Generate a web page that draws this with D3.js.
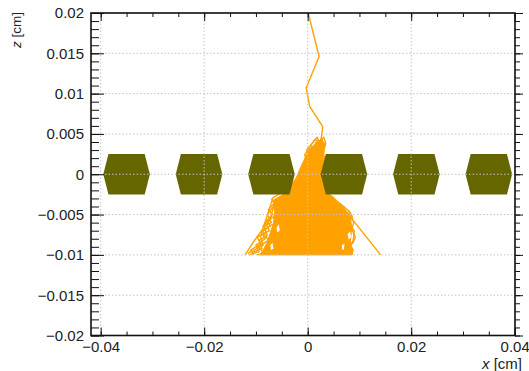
<!DOCTYPE html>
<html>
<head>
<meta charset="utf-8">
<script src="https://cdn.jsdelivr.net/npm/d3@7"></script>
<style>
  body { margin: 0; background: #fff; }
  text { font-family: "Liberation Sans", Arial, sans-serif; }
</style>
</head>
<body>
<svg id="chart" width="529" height="371"></svg>
<script>
// ---- axis ticks (cm) ----
const xMajorTicks = [-0.04, -0.02, 0, 0.02, 0.04];
const xTickLabels = ["\u22120.04", "\u22120.02", "0", "0.02", "0.04"];
const yMajorTicks = [-0.02, -0.015, -0.01, -0.005, 0, 0.005, 0.01, 0.015, 0.02];
const yTickLabels = ["\u22120.02", "\u22120.015", "\u22120.01", "\u22120.005", "0", "0.005", "0.01", "0.015", "0.02"];

// ---- detector cells: centres along x (cm) and the cell outline relative to a centre ----
const cellCentersX = [-0.035, -0.021, -0.007, 0.007, 0.021, 0.035];
const cellOutline = [[-0.0045, 0], [-0.0035, 0.0025], [0.0035, 0.0025], [0.0045, 0], [0.0035, -0.0025], [-0.0035, -0.0025]];

// ---- dense core of the shower, where the tracks overlap completely (x, z in cm) ----
const showerCore = [
  [0.0016, 0.0038], [0.0004, 0.0032], [-0.0004, 0.0022], [-0.0014, 0.0008], [-0.0022, -0.0004],
  [-0.0034, -0.0016], [-0.0050, -0.0026], [-0.0066, -0.0032], [-0.0064, -0.0046], [-0.0066, -0.0060],
  [-0.0072, -0.0072], [-0.0078, -0.0084], [-0.0086, -0.0094], [-0.0092, -0.0100],
  [0.0086, -0.0100], [0.0088, -0.0094], [0.0082, -0.0086], [0.0084, -0.0074], [0.0085, -0.0065],
  [0.0082, -0.0053], [0.0068, -0.0040], [0.0049, -0.0028], [0.0034, -0.0022], [0.0030, 0.0000],
  [0.0030, 0.0022], [0.0034, 0.0036], [0.0027, 0.0044]
];
// small gaps inside the core
const coreGaps = [
  [[0.0077, -0.0074], [0.0082, -0.0071], [0.0084, -0.0078], [0.0079, -0.0081]],
  [[0.0066, -0.0088], [0.0071, -0.0086], [0.0072, -0.0093], [0.0067, -0.0094]],
  [[-0.0060, -0.0066], [-0.0056, -0.0062], [-0.0054, -0.0070], [-0.0059, -0.0072]],
  [[-0.0072, -0.0088], [-0.0068, -0.0085], [-0.0066, -0.0092], [-0.0071, -0.0094]]
];

// ---- individual tracks (x, z in cm) ----
const trackPrimary = [[0.0001, 0.0200], [0.0022, 0.0146], [-0.0003, 0.0107], [0.0004, 0.0084], [0.0029, 0.0059], [0.0027, 0.0048], [0.0024, 0.0040], [0.0018, 0.0030]];
const trackTopLoopA = [[0.0010, 0.0026], [0.0006, 0.0036], [0.0014, 0.0043], [0.0024, 0.0040], [0.0031, 0.0046], [0.0035, 0.0038], [0.0028, 0.0030], [0.0033, 0.0020], [0.0026, 0.0012]];
const trackTopLoopB = [[0.0000, 0.0016], [-0.0006, 0.0024], [0.0002, 0.0032], [0.0010, 0.0030], [0.0016, 0.0040], [0.0022, 0.0034], [0.0020, 0.0022]];
const trackTopLoopC = [[0.0004, 0.0020], [-0.0002, 0.0030], [0.0008, 0.0038], [0.0018, 0.0046], [0.0026, 0.0036]];
const trackLeftEdge = [[-0.0040, -0.0019], [-0.0067, -0.0029], [-0.0079, -0.0053], [-0.0088, -0.0069], [-0.0106, -0.0085], [-0.0121, -0.0100]];
const trackLeftA = [[-0.0062, -0.0034], [-0.0076, -0.0044], [-0.0068, -0.0050], [-0.0080, -0.0058], [-0.0072, -0.0064], [-0.0090, -0.0072], [-0.0082, -0.0080], [-0.0100, -0.0088], [-0.0094, -0.0096], [-0.0114, -0.0100]];
const trackLeftB = [[-0.0066, -0.0040], [-0.0072, -0.0056], [-0.0084, -0.0066], [-0.0078, -0.0076], [-0.0094, -0.0082], [-0.0088, -0.0092], [-0.0106, -0.0097]];
const trackLeftC = [[-0.0070, -0.0030], [-0.0064, -0.0038], [-0.0078, -0.0050], [-0.0070, -0.0060], [-0.0086, -0.0064], [-0.0080, -0.0072], [-0.0098, -0.0078], [-0.0090, -0.0086], [-0.0110, -0.0094], [-0.0104, -0.0100]];
const trackLeftD = [[-0.0068, -0.0062], [-0.0088, -0.0070], [-0.0076, -0.0082], [-0.0096, -0.0090], [-0.0084, -0.0098], [-0.0098, -0.0100]];
const trackLeftE = [[-0.0060, -0.0050], [-0.0082, -0.0060], [-0.0074, -0.0070], [-0.0092, -0.0076], [-0.0086, -0.0088], [-0.0116, -0.0098]];
const trackRightA = [[0.0040, -0.0028], [0.0062, -0.0036], [0.0082, -0.0047], [0.0089, -0.0060], [0.0085, -0.0068], [0.0092, -0.0078], [0.0087, -0.0086], [0.0079, -0.0084], [0.0076, -0.0092], [0.0085, -0.0100]];
const trackRightB = [[0.0070, -0.0044], [0.0086, -0.0052], [0.0080, -0.0062], [0.0090, -0.0070], [0.0088, -0.0082], [0.0082, -0.0090], [0.0073, -0.0087], [0.0070, -0.0096]];
const trackRightLong = [[0.0055, -0.0036], [0.0075, -0.0047], [0.0141, -0.0100]];

const tracks = [trackPrimary, trackTopLoopA, trackTopLoopB, trackTopLoopC, trackLeftEdge, trackLeftA,
                trackLeftB, trackLeftC, trackLeftD, trackLeftE, trackRightA, trackRightB, trackRightLong];

// ---- layout ----
const frame = { left: 91, right: 515, top: 13, bottom: 335.5 };
const x = d3.scaleLinear().domain([-0.04, 0.04]).range([100.7, 514.7]);
const y = d3.scaleLinear().domain([-0.02, 0.02]).range([frame.bottom, frame.top]);

const trackColor = "#ffa200";
const cellColor = "#666600";

const svg = d3.select("#chart");
svg.append("defs").append("clipPath").attr("id", "plotClip")
  .append("rect")
  .attr("x", frame.left).attr("y", frame.top)
  .attr("width", frame.right - frame.left).attr("height", frame.bottom - frame.top);

const plot = svg.append("g").attr("clip-path", "url(#plotClip)");
const openLine = d3.line().x(d => x(d[0])).y(d => y(d[1]));
const closedLine = d3.line().x(d => x(d[0])).y(d => y(d[1])).curve(d3.curveLinearClosed);

// shower core
plot.append("path")
  .attr("d", closedLine(showerCore))
  .attr("fill", trackColor)
  .attr("stroke", trackColor).attr("stroke-width", 1);
plot.selectAll("path.gap").data(coreGaps).join("path")
  .attr("class", "gap")
  .attr("d", d => closedLine(d))
  .attr("fill", "#fff");

// tracks
plot.selectAll("path.track").data(tracks).join("path")
  .attr("class", "track")
  .attr("d", d => openLine(d))
  .attr("fill", "none")
  .attr("stroke", trackColor)
  .attr("stroke-width", 1.4)
  .attr("stroke-linejoin", "round");

// detector cells
plot.selectAll("path.cell").data(cellCentersX).join("path")
  .attr("class", "cell")
  .attr("d", cx => closedLine(cellOutline.map(p => [cx + p[0], p[1]])))
  .attr("fill", cellColor);

// dotted grid drawn over the marks
const grid = svg.append("g").attr("stroke", "#c4c4c4").attr("stroke-width", 1).attr("stroke-dasharray", "1.5,2");
grid.selectAll("line.gx").data(xMajorTicks).join("line")
  .attr("x1", d => x(d)).attr("x2", d => x(d))
  .attr("y1", frame.top).attr("y2", frame.bottom);
grid.selectAll("line.gy").data(yMajorTicks).join("line")
  .attr("x1", frame.left).attr("x2", frame.right)
  .attr("y1", d => y(d)).attr("y2", d => y(d));

// axes
const xMinor = d3.ticks(-0.04, 0.04, 16);
const yMinor = d3.ticks(-0.02, 0.02, 40);
const fontSize = 15;

function styleAxis(g) {
  g.attr("font-family", null).attr("font-size", null);
  g.selectAll("line").attr("stroke", "#111");
  g.selectAll(".domain").remove();
  g.selectAll("text").attr("fill", "#222").attr("font-size", fontSize);
}

// bottom
svg.append("g").attr("transform", `translate(0,${frame.bottom})`)
  .call(d3.axisBottom(x).tickValues(xMinor).tickSize(-4).tickFormat(""))
  .call(styleAxis);
svg.append("g").attr("transform", `translate(0,${frame.bottom})`)
  .call(d3.axisBottom(x).tickValues(xMajorTicks).tickSize(-8).tickPadding(6)
    .tickFormat((d, i) => xTickLabels[i]))
  .call(styleAxis);
// top
svg.append("g").attr("transform", `translate(0,${frame.top})`)
  .call(d3.axisTop(x).tickValues(xMinor).tickSize(-4).tickFormat(""))
  .call(styleAxis);
svg.append("g").attr("transform", `translate(0,${frame.top})`)
  .call(d3.axisTop(x).tickValues(xMajorTicks).tickSize(-8).tickFormat(""))
  .call(styleAxis);
// left
svg.append("g").attr("transform", `translate(${frame.left},0)`)
  .call(d3.axisLeft(y).tickValues(yMinor).tickSize(-8).tickFormat(""))
  .call(styleAxis);
svg.append("g").attr("transform", `translate(${frame.left},0)`)
  .call(d3.axisLeft(y).tickValues(yMajorTicks).tickSize(-13).tickPadding(7)
    .tickFormat((d, i) => yTickLabels[i]))
  .call(styleAxis);
// right
svg.append("g").attr("transform", `translate(${frame.right},0)`)
  .call(d3.axisRight(y).tickValues(yMinor).tickSize(5).tickFormat(""))
  .call(styleAxis);
svg.append("g").attr("transform", `translate(${frame.right},0)`)
  .call(d3.axisRight(y).tickValues(yMajorTicks).tickSize(8).tickFormat(""))
  .call(styleAxis);

// frame
svg.append("rect")
  .attr("x", frame.left).attr("y", frame.top)
  .attr("width", frame.right - frame.left).attr("height", frame.bottom - frame.top)
  .attr("fill", "none").attr("stroke", "#111").attr("stroke-width", 1.6);

// axis titles
const xt = svg.append("text")
  .attr("x", 522).attr("y", 368.5)
  .attr("text-anchor", "end").attr("font-size", 15).attr("fill", "#222");
xt.append("tspan").attr("font-style", "italic").text("x");
xt.append("tspan").text(" [cm]");

const zt = svg.append("text")
  .attr("transform", "translate(21,12) rotate(-90)")
  .attr("text-anchor", "end").attr("font-size", 13.5).attr("fill", "#222");
zt.append("tspan").attr("font-style", "italic").text("z");
zt.append("tspan").text(" [cm]");
</script>
</body>
</html>
